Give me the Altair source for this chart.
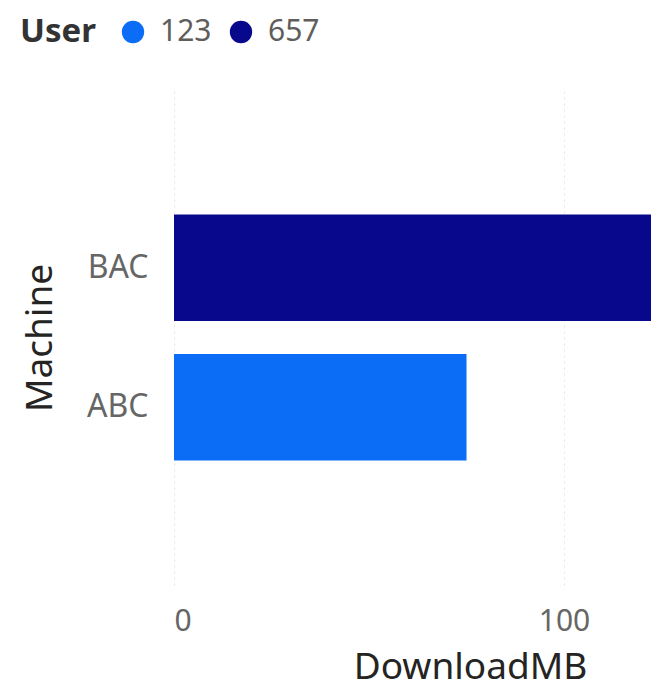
import altair as alt
import pandas as pd

machines = ["ABC", "BAC"]
users = ["123", "657"]
download_mb = [75, 125]
user_colors = ["#0B6CF6", "#08088C"]

df = pd.DataFrame({"Machine": machines, "User": users, "DownloadMB": download_mb})

FONT = "Noto Sans"

chart = alt.Chart(df).mark_bar(clip=True).encode(
    x=alt.X(
        "DownloadMB:Q",
        scale=alt.Scale(domain=[0, 122.3], nice=False, zero=True),
        axis=alt.Axis(
            values=[0, 100],
            grid=True,
            gridDash=[2, 4],
            gridColor="#e4e4e4",
            gridWidth=1,
            domain=False,
            ticks=False,
            labelFontSize=30,
            labelColor="#666666",
            labelPadding=21,
            labelFont=FONT,
            title="DownloadMB",
            titleFont=FONT,
            titleFontSize=37,
            titleFontWeight="normal",
            titleColor="#252423",
            titleX=296,
            titleY=64,
            titleBaseline="top",
            titleAlign="center",
        ),
    ),
    y=alt.Y(
        "Machine:N",
        sort=["BAC", "ABC"],
        scale=alt.Scale(paddingInner=0.236, paddingOuter=0.893),
        axis=alt.Axis(
            grid=False,
            domain=False,
            ticks=False,
            labelFontSize=32,
            labelColor="#666666",
            labelPadding=26,
            labelFont=FONT,
            title="Machine",
            titleFont=FONT,
            titleFontSize=37,
            titleFontWeight="normal",
            titleColor="#252423",
            titleX=-134,
            titleBaseline="middle",
        ),
    ),
    color=alt.Color(
        "User:N",
        scale=alt.Scale(domain=users, range=user_colors),
        legend=alt.Legend(
            title="User",
            orient="none",
            legendX=-154,
            legendY=-73,
            direction="horizontal",
            titleOrient="left",
            titleFont=FONT,
            titleFontSize=33,
            titleFontWeight="bold",
            titleColor="#333333",
            titlePadding=22,
            titleBaseline="middle",
            labelFont=FONT,
            labelFontSize=30,
            labelColor="#605E5C",
            labelOffset=12,
            columnPadding=14,
            symbolType="circle",
            symbolSize=500,
            symbolStrokeWidth=0,
        ),
    ),
).properties(
    width=477,
    height=495,
    autosize=alt.AutoSizeParams(type="none"),
    padding={"left": 166, "top": 82, "right": 0, "bottom": 104},
).configure_view(stroke=None)

chart.save("out.html", embed_options={"renderer": "svg", "actions": False})
